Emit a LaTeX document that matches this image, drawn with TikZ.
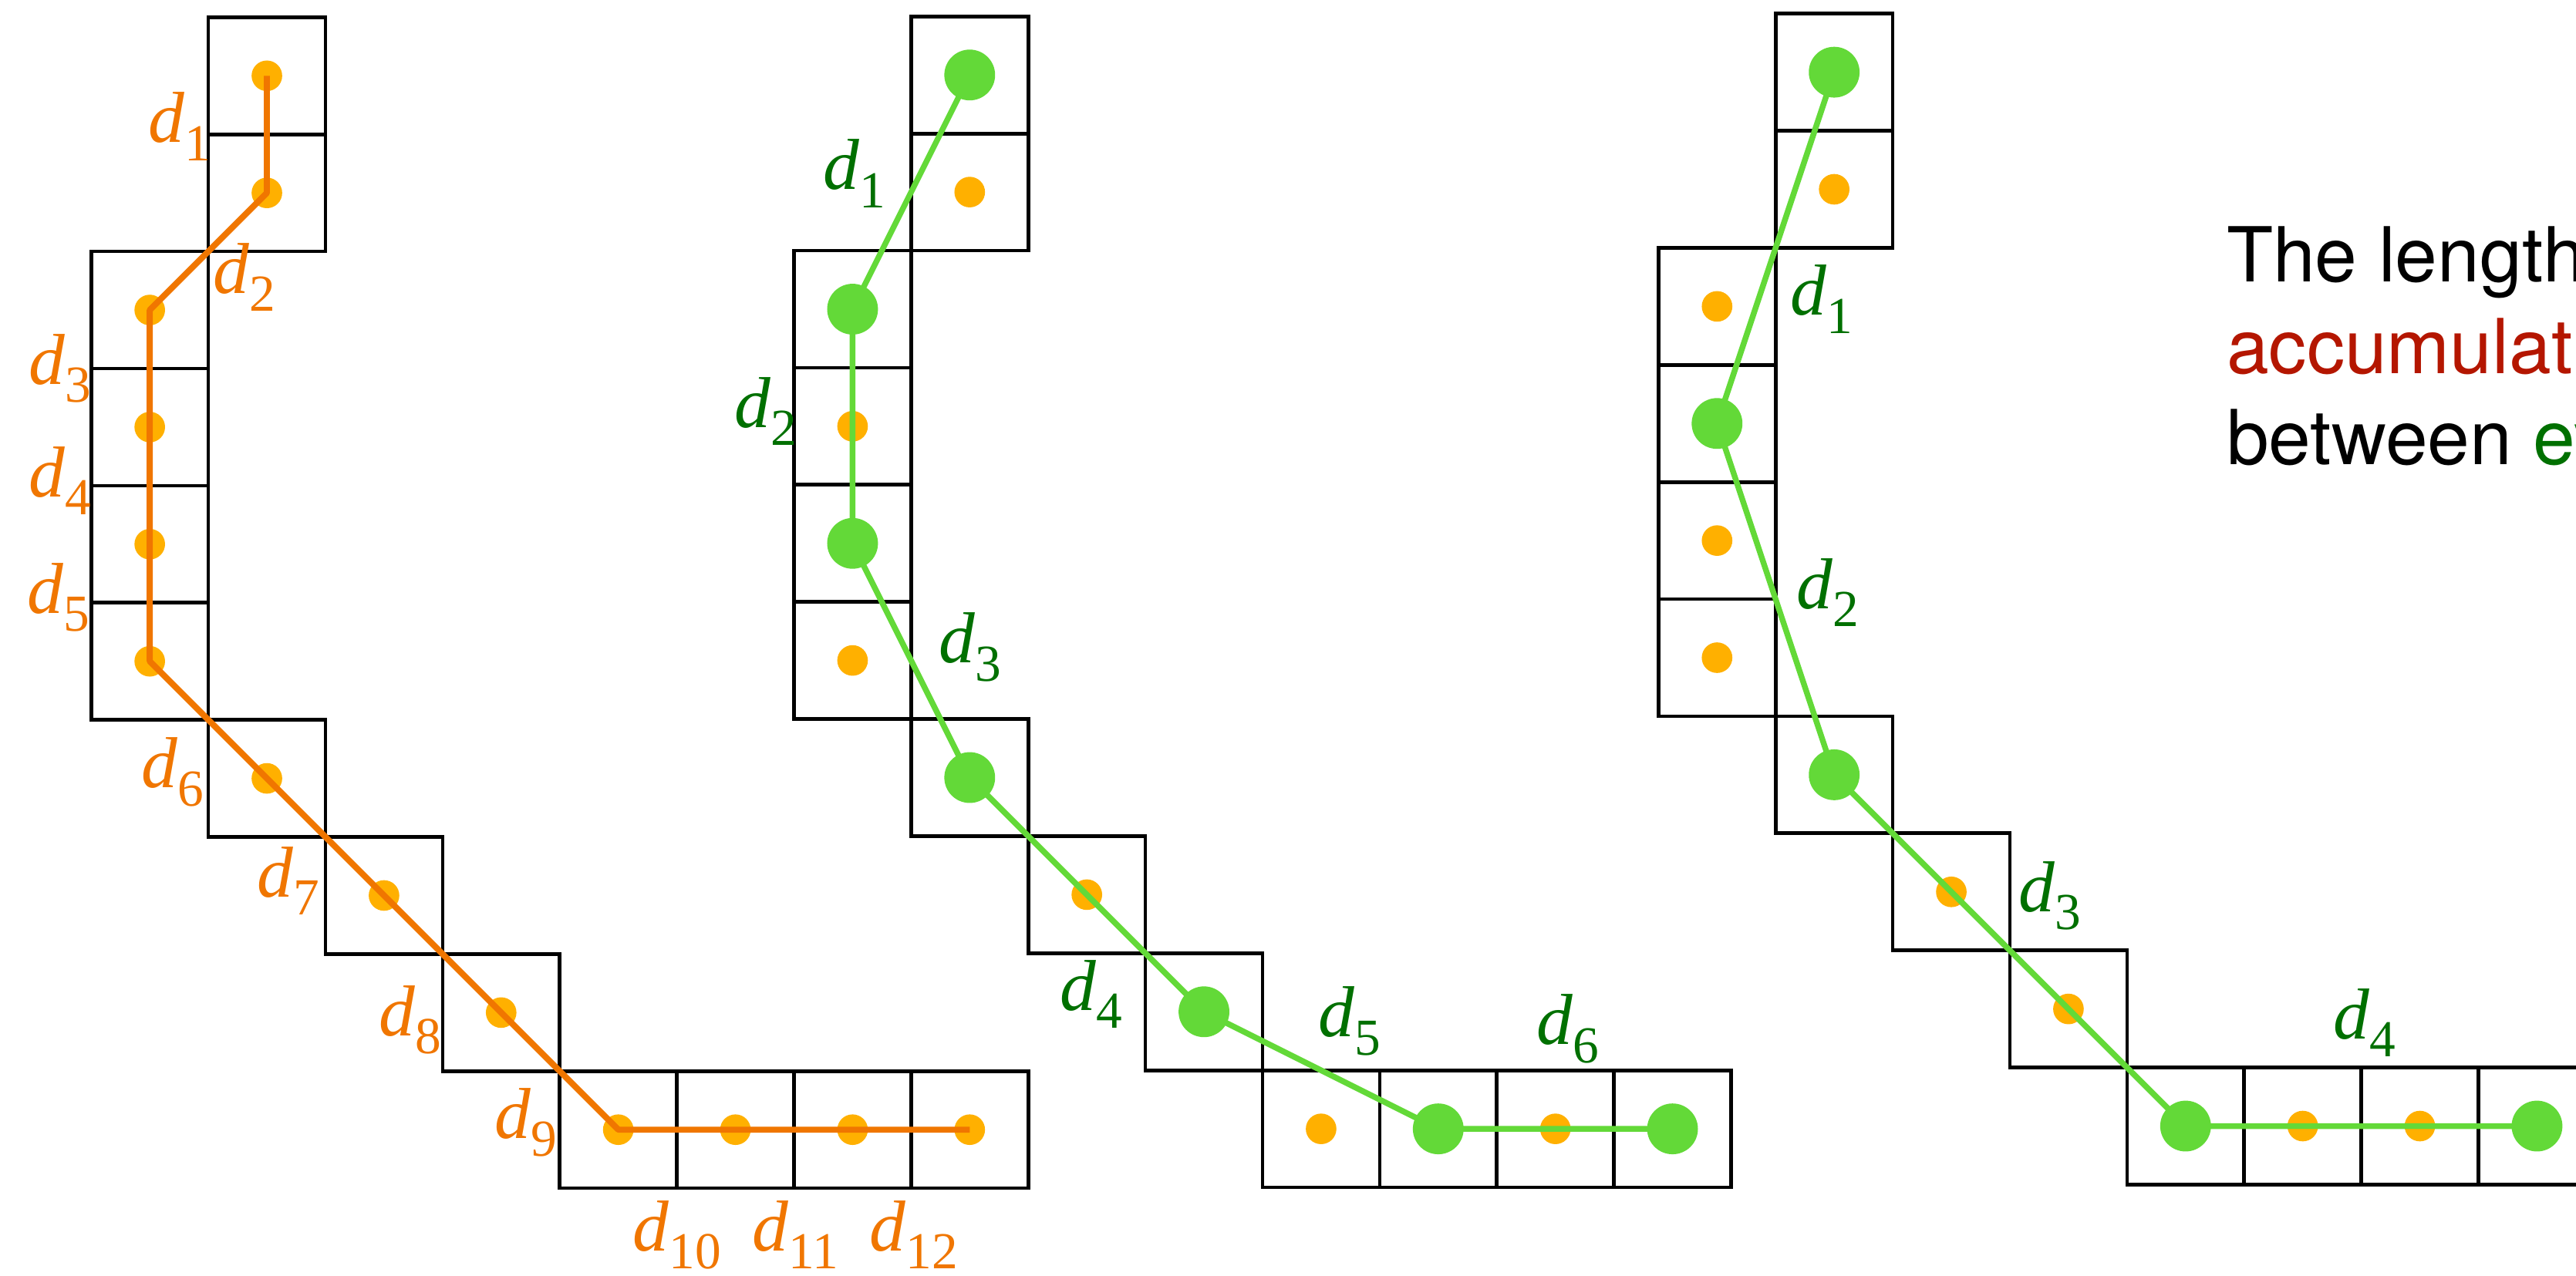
\documentclass[tikz,border=0pt]{standalone}
\usepackage{fontspec}
\setmainfont{Liberation Serif}
\newfontfamily\heros{TeX Gyre Heros}
\definecolor{dotorange}{RGB}{255,176,0}
\definecolor{lineorange}{RGB}{240,118,0}
\definecolor{dotgreen}{RGB}{99,217,56}
\definecolor{labgreen}{RGB}{0,112,0}
\definecolor{txtred}{RGB}{180,22,0}
\newcommand\dl[1]{\textit{d}\raisebox{-0.25em}{\fontsize{18}{18}\selectfont #1}}
\begin{document}
\begin{tikzpicture}[x=0.02cm,y=-0.02cm,
  cellbox/.style={draw=black,line width=1.25pt},
  odot/.style={circle,fill=dotorange,inner sep=0pt,minimum size=10.6pt},
  gdot/.style={circle,fill=dotgreen,inner sep=0pt,minimum size=17.6pt},
  oline/.style={draw=lineorange,line width=2.1pt,line join=round},
  gline/.style={draw=dotgreen,line width=2pt,line join=round},
  olab/.style={text=lineorange,anchor=base west,inner sep=0pt,font=\fontsize{25}{25}\selectfont},
  glab/.style={text=labgreen,anchor=base west,inner sep=0pt,font=\fontsize{25}{25}\selectfont},
  expl/.style={anchor=base west,inner sep=0pt,font=\heros\fontsize{26.3}{26.3}\selectfont}]
\clip (0,0) rectangle (1568,776.5);
\def\cs{71.3}
% ---------- panel 1 ----------
\begin{scope}[shift={(55.5,10.5)}]
  \foreach \c/\r in {1/0,1/1,0/2,0/3,0/4,0/5,1/6,2/7,3/8,4/9,5/9,6/9,7/9}
    \draw[cellbox] ({\c*\cs},{\r*\cs}) rectangle +(\cs,\cs);
  \foreach \c/\r [count=\i] in {1/0,1/1,0/2,0/3,0/4,0/5,1/6,2/7,3/8,4/9,5/9,6/9,7/9}
    \node[odot] (a\i) at ({(\c+0.5)*\cs},{(\r+0.5)*\cs}) {};
\end{scope}
\draw[oline] (a1.center) -- (a2.center) -- (a3.center) -- (a4.center) -- (a5.center)
  -- (a6.center) -- (a7.center) -- (a8.center) -- (a9.center) -- (a10.center)
  -- (a11.center) -- (a12.center) -- (a13.center);
\node[olab] (la1) at (90,86.7) {\dl{1}};
\node[olab] (la2) at (129.3,178.4) {\dl{2}};
\node[olab] (la3) at (17.4,233.9) {\dl{3}};
\node[olab] (la4) at (17.4,302.4) {\dl{4}};
\node[olab] (la5) at (16.3,373.3) {\dl{5}};
\node[olab] (la6) at (86,479.7) {\dl{6}};
\node[olab] (la7) at (156,546) {\dl{7}};
\node[olab] (la8) at (230.6,630.7) {\dl{8}};
\node[olab] (la9) at (301,693) {\dl{9}};
\node[olab] (la10) at (385,761.5) {\dl{10}};
\node[olab] (la11) at (457.7,761.5) {\dl{11}};
\node[olab] (la12) at (529,761.5) {\dl{12}};
% ---------- panel 2 ----------
\begin{scope}[shift={(483.3,10)}]
  \foreach \c/\r in {1/0,1/1,0/2,0/3,0/4,0/5,1/6,2/7,3/8,4/9,5/9,6/9,7/9}
    \draw[cellbox] ({\c*\cs},{\r*\cs}) rectangle +(\cs,\cs);
  \foreach \c/\r/\k [count=\i] in {1/0/gdot,1/1/odot,0/2/gdot,0/3/odot,0/4/gdot,0/5/odot,1/6/gdot,2/7/odot,3/8/gdot,4/9/odot,5/9/gdot,6/9/odot,7/9/gdot}
    \node[\k] (b\i) at ({(\c+0.5)*\cs},{(\r+0.5)*\cs}) {};
\end{scope}
\draw[gline] (b1.center) -- (b3.center) -- (b5.center) -- (b7.center) -- (b9.center)
  -- (b11.center) -- (b13.center);
\node[glab] (lb1) at (501,115.4) {\dl{1}};
\node[glab] (lb2) at (446.7,260.3) {\dl{2}};
\node[glab] (lb3) at (571.3,403.7) {\dl{3}};
\node[glab] (lb4) at (645,615) {\dl{4}};
\node[glab] (lb5) at (802,631.3) {\dl{5}};
\node[glab] (lb6) at (935,636) {\dl{6}};
% ---------- panel 3 ----------
\begin{scope}[shift={(1009.5,8.3)}]
  \foreach \c/\r in {1/0,1/1,0/2,0/3,0/4,0/5,1/6,2/7,3/8,4/9,5/9,6/9,7/9}
    \draw[cellbox] ({\c*\cs},{\r*\cs}) rectangle +(\cs,\cs);
  \foreach \c/\r/\k [count=\i] in {1/0/gdot,1/1/odot,0/2/odot,0/3/gdot,0/4/odot,0/5/odot,1/6/gdot,2/7/odot,3/8/odot,4/9/gdot,5/9/odot,6/9/odot,7/9/gdot}
    \node[\k] (c\i) at ({(\c+0.5)*\cs},{(\r+0.5)*\cs}) {};
\end{scope}
\draw[gline] (c1.center) -- (c4.center) -- (c7.center) -- (c10.center) -- (c13.center);
\node[glab] (lc1) at (1089.7,192) {\dl{1}};
\node[glab] (lc2) at (1093.2,370.5) {\dl{2}};
\node[glab] (lc3) at (1228.4,555) {\dl{3}};
\node[glab] (lc4) at (1420,632.4) {\dl{4}};
% ---------- explanation text ----------
\node[expl] (t1) at (1355,171.5) {The length};
\node[expl,text=txtred] (t2) at (1355,227.3) {accumulat};
\node[expl] (t3) at (1355,283) {between \textcolor{labgreen}{ev}};
\end{tikzpicture}
\end{document}
